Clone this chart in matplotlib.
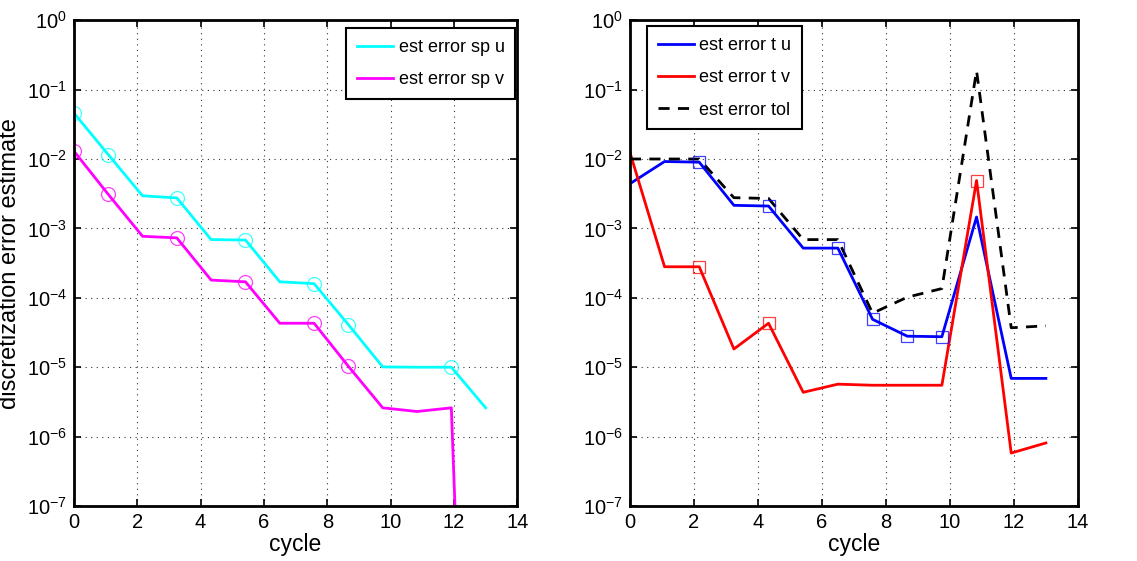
import matplotlib.pyplot as plt
import numpy as np

plt.rcParams['font.family'] = ['Liberation Sans', 'DejaVu Sans']
plt.rcParams['mathtext.fontset'] = 'custom'
plt.rcParams['mathtext.rm'] = 'Liberation Sans'

# 13 cycles spread evenly over [0, 13]
cycle = np.linspace(0, 13, 13)

# left panel: spatial error estimates
sp_u = [4.6e-2, 1.16e-2, 2.95e-3, 2.75e-3, 6.9e-4, 6.8e-4, 1.7e-4, 1.6e-4,
        4.1e-5, 1.01e-5, 1.0e-5, 1.0e-5, 2.6e-6]
sp_v = [1.3e-2, 3.1e-3, 7.7e-4, 7.3e-4, 1.8e-4, 1.7e-4, 4.3e-5, 4.3e-5,
        1.03e-5, 2.6e-6, 2.3e-6, 2.6e-6, 1e-19]
sp_u_marks = [0, 1, 3, 5, 7, 8, 11]
sp_v_marks = [0, 1, 3, 5, 7, 8]

# right panel: temporal error estimates and tolerance
t_u = [4.4e-3, 9.2e-3, 9.0e-3, 2.15e-3, 2.1e-3, 5.2e-4, 5.2e-4, 4.9e-5,
       2.8e-5, 2.75e-5, 1.46e-3, 6.9e-6, 6.9e-6]
t_v = [1.25e-2, 2.8e-4, 2.8e-4, 1.83e-5, 4.3e-5, 4.35e-6, 5.7e-6, 5.5e-6,
       5.5e-6, 5.5e-6, 4.9e-3, 5.8e-7, 8.1e-7]
tol = [1.0e-2, 1.0e-2, 1.0e-2, 2.77e-3, 2.7e-3, 6.9e-4, 6.9e-4, 6.0e-5,
       1.02e-4, 1.36e-4, 0.187, 3.7e-5, 3.95e-5]
t_u_marks = [2, 4, 6, 7, 8, 9]
t_v_marks = [2, 4, 10]

fig = plt.figure(figsize=(11.37, 5.61), dpi=100)
ax1 = fig.add_axes([0.065, 0.098, 0.390, 0.866])
ax2 = fig.add_axes([0.554, 0.098, 0.394, 0.866])

lw = 2.0


def mark(ax, y, idx, color, marker, ms):
    x = cycle[idx]
    yy = np.array(y)[idx]
    ax.plot(x, yy, linestyle='none', marker=marker, ms=ms, mfc='none',
            mec=color, mew=0.9, alpha=0.75)


ax1.plot(cycle, sp_u, color='#00ffff', lw=lw, label='est error sp u')
ax1.plot(cycle, sp_v, color='#ff00ff', lw=lw, label='est error sp v')
mark(ax1, sp_u, sp_u_marks, '#00ffff', 'o', 10)
mark(ax1, sp_v, sp_v_marks, '#ff00ff', 'o', 10)

ax2.plot(cycle, t_u, color='#0000ff', lw=lw, label='est error t u')
ax2.plot(cycle, t_v, color='#ff0000', lw=lw, label='est error t v')
ax2.plot(cycle, tol, color='black', lw=lw, ls=(0, (4, 3)), label='est error tol')
mark(ax2, t_u, t_u_marks, '#0000ff', 's', 9)
mark(ax2, t_v, t_v_marks, '#ff0000', 's', 9)

for ax in (ax1, ax2):
    ax.set_yscale('log')
    ax.set_xlim(0, 14)
    ax.set_ylim(1e-7, 1)
    ax.set_xticks(np.arange(0, 15, 2))
    ax.set_yticks([10.0 ** k for k in range(-7, 1)])
    ax.minorticks_off()
    ax.grid(True, color='black', ls=(0, (1, 4)), lw=0.8, alpha=0.8)
    ax.tick_params(direction='in', top=True, right=True, length=5, width=1.2,
                   labelsize=14.5, pad=5)
    for s in ax.spines.values():
        s.set_linewidth(2.0)
    ax.set_xlabel('cycle', fontsize=16.5, labelpad=1)

ax1.set_ylabel('discretization error estimate', fontsize=17, labelpad=4)

leg_kw = dict(fontsize=13, fancybox=False, edgecolor='black', framealpha=1,
              handlelength=2.0, labelspacing=0.85, handletextpad=0.3,
              borderpad=0.6, borderaxespad=0)
leg1 = ax1.legend(loc='upper right', bbox_to_anchor=(0.9955, 0.9835), **leg_kw)
leg1.get_frame().set_linewidth(1.5)
leg2 = ax2.legend(loc='upper left', bbox_to_anchor=(0.038, 0.988), **leg_kw)
leg2.get_frame().set_linewidth(1.5)

fig.savefig('out.png', dpi=100)
